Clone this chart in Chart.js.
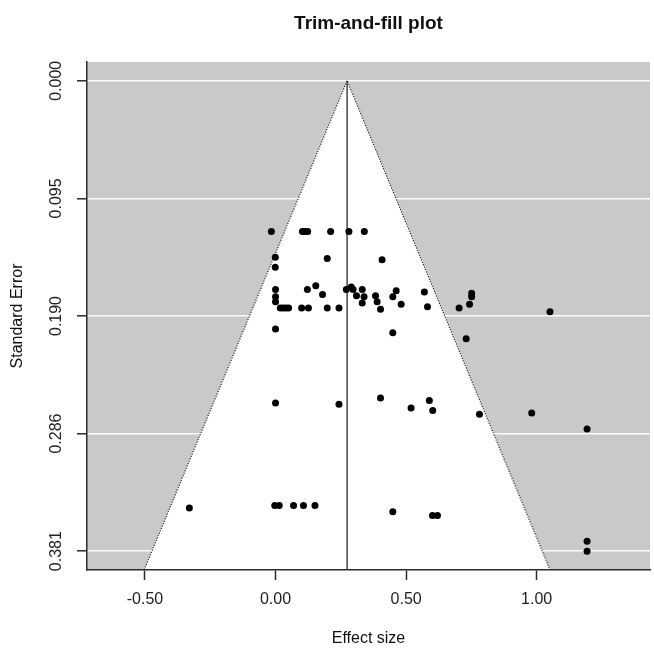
<!DOCTYPE html>
<html>
<head>
<meta charset="utf-8">
<title>Trim-and-fill plot</title>
<script src="https://cdn.jsdelivr.net/npm/chart.js@4.4.1/dist/chart.umd.min.js"></script>
<style>
  html, body { margin: 0; padding: 0; background: #ffffff; }
  canvas { display: block; }
</style>
</head>
<body>
<canvas id="funnel-chart" width="654" height="648"></canvas>
<script>
/**
 * Trim-and-fill funnel plot (Chart.js)
 */

// Study effect sizes and their standard errors
const effectSize = [
    -0.016, 0.103, 0.113, 0.123, 0.211, 0.281, 0.340,
    -0.001, 0.198, 0.408, -0.001,
    0.000, 0.122, 0.154, 0.180, 0.271, 0.290, 0.297, 0.310, 0.332, 0.339, 0.332,
    0.383, 0.389, 0.402, 0.449, 0.462, 0.481, 0.570, 0.582, 0.000, 0.000,
    0.018, 0.029, 0.040, 0.050, 0.100, 0.126, 0.198, 0.243,
    0.000, 0.449,
    0.703, 0.743, 0.751, 0.751, 1.051, 0.730,
    0.000, 0.243, 0.402, 0.519, 0.589, 0.602,
    0.781, 0.981, 1.193,
    -0.330, -0.003, 0.014, 0.069, 0.107, 0.151, 0.449, 0.601, 0.620,
    1.193, 1.193
];
const stdError = [
    0.122, 0.122, 0.122, 0.122, 0.122, 0.122, 0.122,
    0.143, 0.144, 0.145, 0.151,
    0.169, 0.169, 0.166, 0.173, 0.169, 0.167, 0.169, 0.174, 0.169, 0.175, 0.180,
    0.174, 0.179, 0.185, 0.175, 0.170, 0.181, 0.171, 0.183, 0.175, 0.179,
    0.184, 0.184, 0.184, 0.184, 0.184, 0.184, 0.184, 0.184,
    0.201, 0.204,
    0.184, 0.181, 0.172, 0.175, 0.187, 0.209,
    0.261, 0.262, 0.257, 0.265, 0.259, 0.267,
    0.270, 0.269, 0.282,
    0.346, 0.344, 0.344, 0.344, 0.344, 0.344, 0.349, 0.352, 0.352,
    0.373, 0.381
];

// Pooled estimate (vertical line) and pseudo-confidence funnel
const pooledEffect = 0.274;
const pooledLineSE = [0, 0.396];
const funnelX = [-0.503, 0.274, 1.051];
const funnelSE = [0.396, 0, 0.396];

// Axes
const xTicks = [-0.5, 0, 0.5, 1.0];
const xTickLabels = ['-0.50', '0.00', '0.50', '1.00'];
const yTicks = [0, 0.09525, 0.1905, 0.28575, 0.381];
const yTickLabels = ['0.000', '0.095', '0.190', '0.286', '0.381'];
const xRange = [-0.722, 1.434];
const yRange = [-0.01524, 0.39624];

const FONT = 'Liberation Sans, Arial, Helvetica, sans-serif';
const INK = '#2b2b2b';

// grey panel behind everything, white funnel gets filled on top of it
const panelBackground = {
    id: 'panelBackground',
    beforeDraw: (chart) => {
        const { ctx, chartArea: a } = chart;
        ctx.save();
        ctx.fillStyle = '#c9c9c9';
        ctx.fillRect(a.left, a.top, a.right - a.left, a.bottom - a.top);
        ctx.restore();
    }
};

const studies = effectSize.map((x, i) => ({ x: x, y: stdError[i] }));
const funnel = funnelX.map((x, i) => ({ x: x, y: funnelSE[i] }));
const pooled = pooledLineSE.map(se => ({ x: pooledEffect, y: se }));

new Chart(document.getElementById('funnel-chart'), {
    type: 'scatter',
    data: {
        datasets: [
            {
                label: 'Studies',
                data: studies,
                backgroundColor: '#000000',
                borderWidth: 0,
                pointRadius: 3.5,
                order: 0
            },
            {
                label: 'Pooled estimate',
                type: 'line',
                data: pooled,
                borderColor: INK,
                borderWidth: 1.3,
                pointRadius: 0,
                fill: false,
                order: 1
            },
            {
                label: 'Funnel',
                type: 'line',
                data: funnel,
                borderColor: '#111111',
                borderWidth: 1.2,
                borderDash: [1, 1.6],
                backgroundColor: '#ffffff',
                pointRadius: 0,
                tension: 0,
                fill: { value: yRange[1] },
                order: 2
            }
        ]
    },
    options: {
        responsive: false,
        animation: false,
        devicePixelRatio: 1,
        layout: { padding: 0 },
        plugins: {
            legend: { display: false },
            tooltip: { enabled: false },
            title: {
                display: true,
                text: 'Trim-and-fill plot',
                fullSize: false,
                color: '#111111',
                font: { family: FONT, size: 19, weight: 'bold' },
                padding: { top: 12.6, bottom: 26.6 }
            }
        },
        scales: {
            x: {
                type: 'linear',
                min: xRange[0],
                max: xRange[1],
                afterBuildTicks: (scale) => { scale.ticks = xTicks.map(v => ({ value: v })); },
                afterFit: (scale) => { scale.height = 78; },
                ticks: {
                    autoSkip: false,
                    maxRotation: 0,
                    padding: 10,
                    color: '#222222',
                    font: { family: FONT, size: 16 },
                    callback: (value, index) => xTickLabels[index]
                },
                grid: {
                    drawOnChartArea: false,
                    drawTicks: true,
                    tickLength: 10,
                    tickColor: INK,
                    tickWidth: 1.5
                },
                border: { display: true, color: INK, width: 1.5, z: 1 },
                title: {
                    display: true,
                    text: 'Effect size',
                    color: '#111111',
                    font: { family: FONT, size: 16 },
                    padding: { top: 0, bottom: 0 }
                }
            },
            y: {
                type: 'linear',
                reverse: true,
                min: yRange[0],
                max: yRange[1],
                afterBuildTicks: (scale) => { scale.ticks = yTicks.map(v => ({ value: v })); },
                afterFit: (scale) => { scale.width = 87; },
                ticks: {
                    autoSkip: false,
                    minRotation: 90,
                    maxRotation: 90,
                    crossAlign: 'center',
                    padding: 0,
                    color: '#222222',
                    font: { family: FONT, size: 16 },
                    callback: (value, index) => yTickLabels[index]
                },
                grid: {
                    color: 'rgba(255,255,255,0.95)',
                    lineWidth: 1.6,
                    drawTicks: true,
                    tickLength: 10,
                    tickColor: INK,
                    tickWidth: 1.5
                },
                border: { display: true, color: INK, width: 1.5, z: 1 },
                title: {
                    display: true,
                    text: 'Standard Error',
                    color: '#111111',
                    font: { family: FONT, size: 16 },
                    padding: { top: 8.4, bottom: 0 }
                }
            }
        }
    },
    plugins: [panelBackground]
});
</script>
</body>
</html>
